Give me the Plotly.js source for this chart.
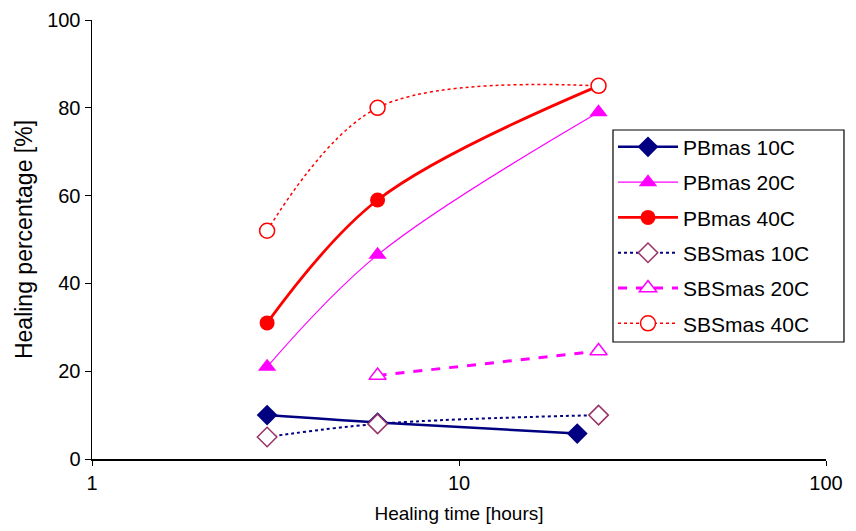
<!DOCTYPE html>
<html>
<head>
<meta charset="utf-8">
<script src="https://cdn.plot.ly/plotly-3.0.1.min.js"></script>
<style>html,body{margin:0;padding:0;background:#fff;}#chart{width:856px;height:531px;}</style>
</head>
<body>
<div id="chart"></div>
<script>
const seriesNames = ["PBmas 10C","PBmas 20C","PBmas 40C","SBSmas 10C","SBSmas 20C","SBSmas 40C"];
const pb10x = [3, 6, 21];      const pb10y = [10, 8.3, 5.8];
const pb20x = [3, 6, 24];      const pb20y = [21, 46.5, 79];
const pb40x = [3, 6, 24];      const pb40y = [31, 59, 85];
const sbs10x = [3, 6, 24];     const sbs10y = [5, 8, 10];
const sbs20x = [6, 24];        const sbs20y = [19, 24.6];
const sbs40x = [3, 6, 24];     const sbs40y = [52, 80, 85];
const xTicks = [1, 10, 100];
const yTicks = [0, 20, 40, 60, 80, 100];

const FONT = "Liberation Sans, Arial, sans-serif";
function tr(name, x, y, color, lw, dash, sym, msize, mfill, mline, mlw, grp) {
  return {
    name: name, x: x, y: y, type: "scatter", mode: "lines+markers",
    legendgroup: grp,
    line: {color: color, width: lw, dash: dash, shape: "spline", smoothing: 1},
    marker: {symbol: sym, size: msize, color: mfill, line: {color: mline, width: mlw}}
  };
}
const data = [
  tr(seriesNames[0], pb10x, pb10y, "#000080", 2.5, "solid", "diamond", 16, "#000080", "#000080", 0, "a"),
  tr(seriesNames[1], pb20x, pb20y, "#FF00FF", 1.2, "solid", "triangle-up", 16, "#FF00FF", "#FF00FF", 0, "b"),
  tr(seriesNames[2], pb40x, pb40y, "#FF0000", 2.8, "solid", "circle", 15, "#FF0000", "#FF0000", 0, "c"),
  tr(seriesNames[3], sbs10x, sbs10y, "#000080", 2, "dot", "diamond", 15, "#FFFFFF", "#993366", 1.5, "d"),
  tr(seriesNames[4], sbs20x, sbs20y, "#FF00FF", 3, "dash", "triangle-up", 15, "#FFFFFF", "#FF00FF", 1.5, "e"),
  tr(seriesNames[5], sbs40x, sbs40y, "#FF0000", 1.5, "dot", "circle", 15, "#FFFFFF", "#FF0000", 1.5, "f")
];
const layout = {
  width: 856, height: 531,
  margin: {l: 92, r: 30, t: 20, b: 72},
  paper_bgcolor: "#fff", plot_bgcolor: "#fff",
  font: {family: FONT, size: 20, color: "#000"},
  showlegend: true,
  xaxis: {
    type: "log", range: [0, 2], tickvals: xTicks, ticktext: xTicks.map(String),
    showgrid: false, zeroline: false, showline: true, linecolor: "#000", linewidth: 1.5,
    ticks: "outside", ticklen: 5, tickcolor: "#000",
    tickfont: {size: 20},
    title: {text: "Healing time [hours]", font: {size: 19}, standoff: 14}
  },
  yaxis: {
    range: [0, 100], tickvals: yTicks,
    showgrid: false, zeroline: false, showline: true, linecolor: "#000", linewidth: 1.5,
    ticks: "outside", ticklen: 6, tickcolor: "#000",
    tickfont: {size: 20},
    title: {text: "Healing percentage [%]", font: {size: 23}, standoff: 8}
  },
  shapes: [{
    type: "rect", xref: "paper", yref: "paper", layer: "above",
    x0: 0.7098, x1: 1.0245, y0: 0.2665, y1: 0.7494,
    line: {color: "#000", width: 1.2}, fillcolor: "#fff"
  }],
  legend: {
    x: 0.7098, y: 0.757, xanchor: "left", yanchor: "top",
    borderwidth: 0, bgcolor: "rgba(0,0,0,0)",
    font: {size: 21}, itemwidth: 60, traceorder: "grouped", tracegroupgap: 5
  }
};
Plotly.newPlot("chart", data, layout, {displayModeBar: false, staticPlot: true});
</script>
</body>
</html>
